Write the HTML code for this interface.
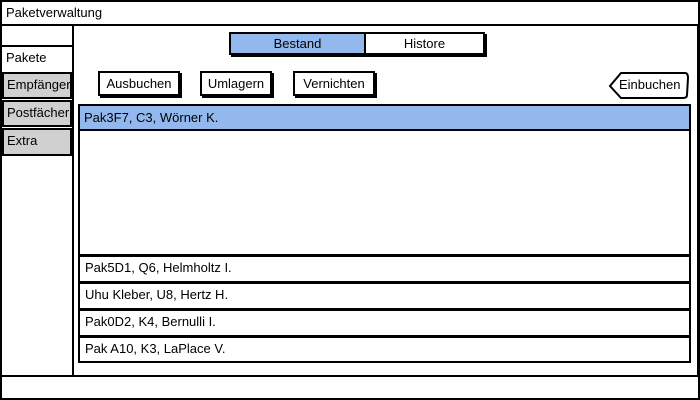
<!DOCTYPE html>
<html><head><meta charset="utf-8"><style>
*{box-sizing:border-box;margin:0;padding:0}
body{width:700px;height:400px;background:#fff;position:relative;overflow:hidden;font-family:"Liberation Sans",sans-serif;font-size:13px;color:#000}
.a{position:absolute}
.b{border:2px solid #000}
.t{line-height:22px;padding-left:4px}
.tab{background:#d0d0d0;border:2px solid #000;left:2px;width:70px;padding-left:3px;line-height:22px}
.btn{border:2px solid #000;background:#fff;text-align:center;line-height:21px;box-shadow:2px 2px 0 #000}
.row{left:78px;width:613px;border:2px solid #000;padding-left:5px;line-height:22px}
</style></head><body>
<div class="a b" style="left:0;top:0;width:700px;height:400px"></div>
<div class="a t" style="left:2px;top:1px;height:24px;line-height:24px">Paketverwaltung</div>
<div class="a" style="left:0;top:24px;width:700px;height:2px;background:#000"></div>
<div class="a b" style="left:0;top:24px;width:74px;height:23px"></div>
<div class="a t" style="left:2px;top:47px">Pakete</div>
<div class="a tab" style="top:72px;height:27px">Empfänger</div>
<div class="a tab" style="top:100px;height:27px">Postfächer</div>
<div class="a tab" style="top:128px;height:28px">Extra</div>
<div class="a b" style="left:72px;top:24px;width:627px;height:353px;border-top:none"></div>
<div class="a" style="left:229px;top:32px;width:256px;height:23px;border:2px solid #000;box-shadow:2px 2px 0 #000;display:flex">
<div style="width:135px;background:#92b8ee;border-right:2px solid #000;text-align:center;line-height:19px">Bestand</div>
<div style="flex:1;text-align:center;line-height:19px">Histore</div></div>
<div class="a btn" style="left:98px;top:71px;width:82px;height:25px">Ausbuchen</div>
<div class="a btn" style="left:200px;top:71px;width:72px;height:25px">Umlagern</div>
<div class="a btn" style="left:293px;top:71px;width:82px;height:25px">Vernichten</div>
<svg class="a" style="left:605px;top:70px" width="85" height="32"><path d="M16 3 L80 3 Q83 3 83 8 L82 25 Q82 28 78 28 L16 28 L5 16 Z" fill="#fff" stroke="#000" stroke-width="2"/></svg>
<div class="a" style="left:619px;top:74px;line-height:22px">Einbuchen</div>
<div class="a b" style="left:78px;top:104px;width:613px;height:152px"></div>
<div class="a" style="left:80px;top:106px;width:609px;height:25px;background:#92b8ee;border-bottom:2px solid #000;padding-left:4px;line-height:23px">Pak3F7, C3, Wörner K.</div>
<div class="a row" style="top:255px;height:28px">Pak5D1, Q6, Helmholtz I.</div>
<div class="a row" style="top:282px;height:28px">Uhu Kleber, U8, Hertz H.</div>
<div class="a row" style="top:309px;height:28px">Pak0D2, K4, Bernulli I.</div>
<div class="a row" style="top:336px;height:27px">Pak A10, K3, LaPlace V.</div>
<div class="a" style="left:0;top:375px;width:700px;height:2px;background:#000"></div>
</body></html>
